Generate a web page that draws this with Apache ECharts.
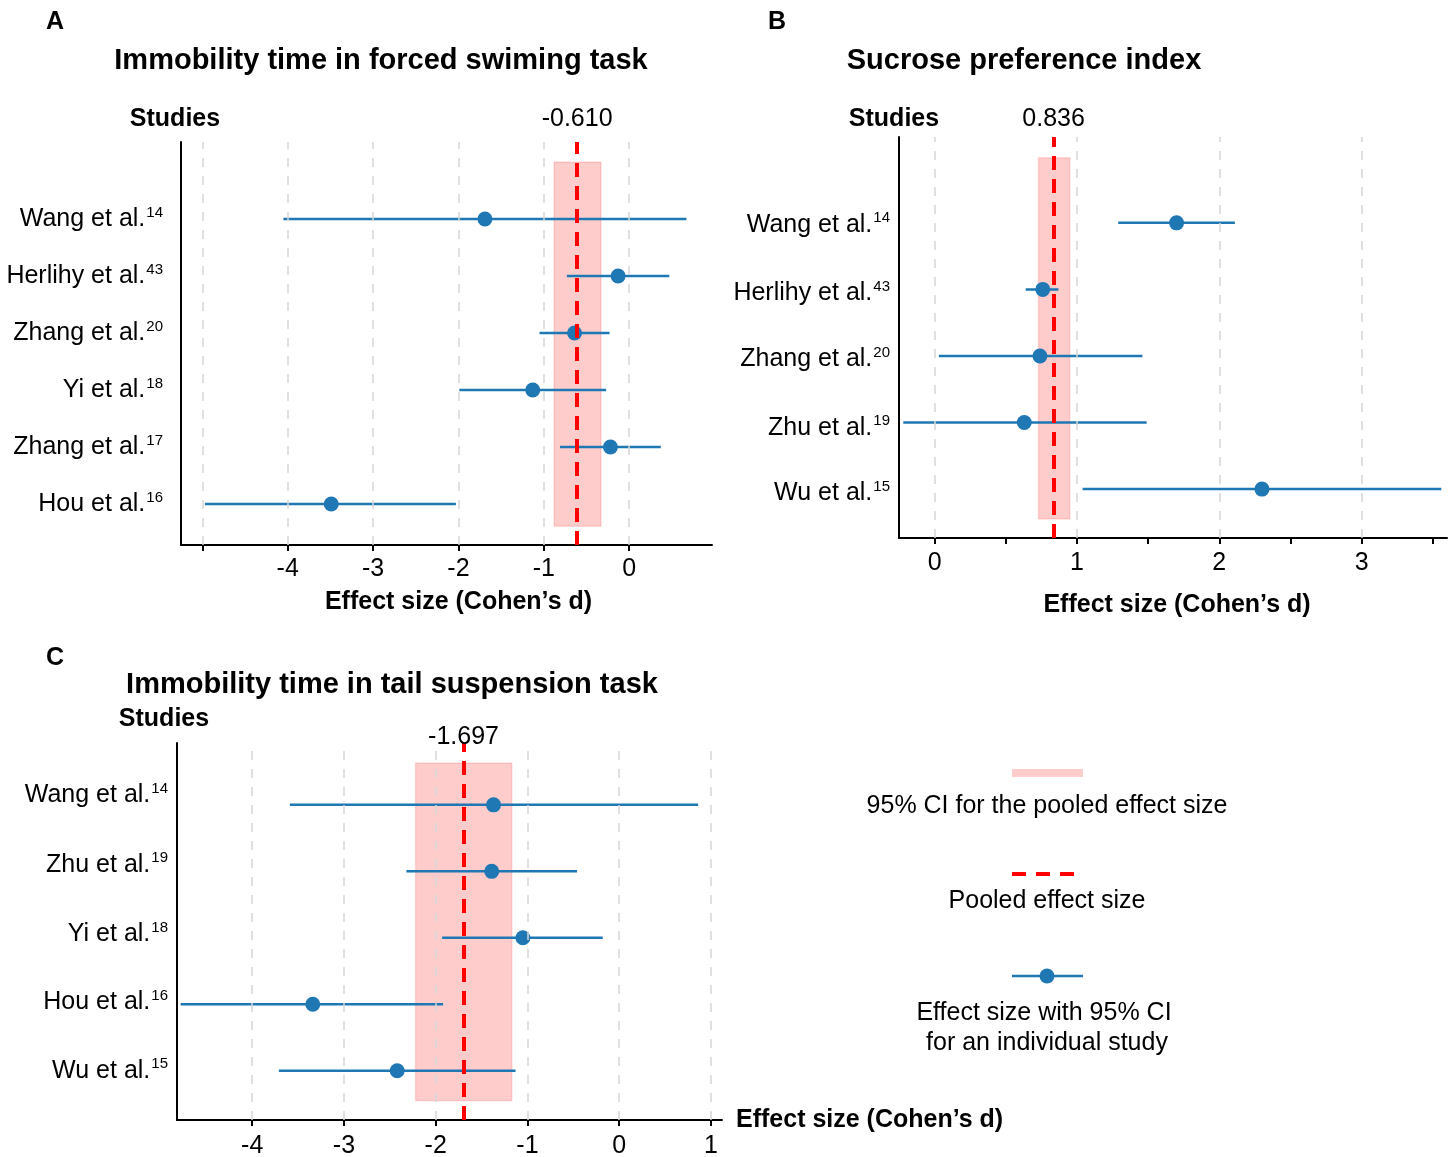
<!DOCTYPE html>
<html><head><meta charset="utf-8">
<script src="https://cdn.jsdelivr.net/npm/echarts@6/dist/echarts.min.js"></script>
<style>html,body{margin:0;padding:0;background:#fff}#c{width:1453px;height:1157px}</style>
</head><body><div id="c"></div>
<script>
const FONT = '"Liberation Sans", Arial, Helvetica, sans-serif';

// ---- Panel A: Immobility time in forced swiming task ----
const studiesA = ['Wang et al.', 'Herlihy et al.', 'Zhang et al.', 'Yi et al.', 'Zhang et al.', 'Hou et al.'];
const refsA = ['14', '43', '20', '18', '17', '16'];
const estA = [-1.69, -0.13, -0.64, -1.13, -0.22, -3.49];
const lowA = [-4.05, -0.73, -1.05, -1.99, -0.81, -4.97];
const highA = [0.67, 0.47, -0.23, -0.27, 0.37, -2.03];
const pooledA = -0.610;
const ciA = [-0.88, -0.33];
const tickValsA = [-5, -4, -3, -2, -1, 0];
const tickLabelsA = [-4, -3, -2, -1, 0];
const gridValsA = [-5, -4, -3, -2, -1, 0];
const labelPosA = [5, 4, 3, 2, 1, 0];

// ---- Panel B: Sucrose preference index ----
const studiesB = ['Wang et al.', 'Herlihy et al.', 'Zhang et al.', 'Zhu et al.', 'Wu et al.'];
const refsB = ['14', '43', '20', '19', '15'];
const estB = [1.70, 0.76, 0.74, 0.63, 2.30];
const lowB = [1.29, 0.64, 0.03, -0.22, 1.04];
const highB = [2.11, 0.87, 1.46, 1.49, 3.56];
const pooledB = 0.836;
const ciB = [0.73, 0.95];
const tickValsB = [0, 0.5, 1, 1.5, 2, 2.5, 3, 3.5];
const tickLabelsB = [0, 1, 2, 3];
const gridValsB = [0, 1, 2, 3];
const labelPosB = [3.97, 2.94, 1.95, 0.92, -0.06];

// ---- Panel C: Immobility time in tail suspension task ----
const studiesC = ['Wang et al.', 'Zhu et al.', 'Yi et al.', 'Hou et al.', 'Wu et al.'];
const refsC = ['14', '19', '18', '16', '15'];
const estC = [-1.37, -1.39, -1.05, -3.34, -2.42];
const lowC = [-3.59, -2.32, -1.93, -4.78, -3.71];
const highC = [0.86, -0.46, -0.18, -1.92, -1.13];
const pooledC = -1.697;
const ciC = [-2.22, -1.17];
const tickValsC = [-4, -3, -2, -1, 0, 1];
const tickLabelsC = [-4, -3, -2, -1, 0, 1];
const gridValsC = [-4, -3, -2, -1, 0, 1];
const labelPosC = [4.15, 3.10, 2.05, 1.03, 0];

const axisName = 'Effect size (Cohen\u2019s d)';

const panels = [
  { grid: {left: 181, top: 142, width: 531, height: 403}, xr: [-5.25, 0.97], yr: [-0.72, 6.35], band: [-0.39, 6.0],
    studies: studiesA, refs: refsA, est: estA, low: lowA, high: highA, pooled: pooledA, ci: ciA, lpos: labelPosA,
    ticks: tickValsA, labels: tickLabelsA, gridVals: gridValsA, yMargin: 18, xMargin: 12,
    nameLoc: 'middle', nameGap: 45, namePad: [0, 0, 0, 24], pDist: 10 },
  { grid: {left: 899, top: 137, width: 548, height: 401}, xr: [-0.25, 3.6], yr: [-0.735, 5.29], band: [-0.45, 4.98],
    studies: studiesB, refs: refsB, est: estB, low: lowB, high: highB, pooled: pooledB, ci: ciB, lpos: labelPosB,
    ticks: tickValsB, labels: tickLabelsB, gridVals: gridValsB, yMargin: 9, xMargin: 13,
    nameLoc: 'middle', nameGap: 55, namePad: [0, 0, 0, 8], pDist: 5 },
  { grid: {left: 177, top: 743, width: 545, height: 377}, xr: [-4.82, 1.12], yr: [-0.74, 4.93], band: [-0.45, 4.63],
    studies: studiesC, refs: refsC, est: estC, low: lowC, high: highC, pooled: pooledC, ci: ciC, lpos: labelPosC,
    ticks: tickValsC, labels: tickLabelsC, gridVals: gridValsC, yMargin: 9, xMargin: 14,
    nameLoc: 'end', nameGap: 14, namePad: 0, pDist: -7 }
];

const grids = [], xAxes = [], yAxes = [], series = [];
panels.forEach((p, i) => {
  const n = p.studies.length;
  grids.push(Object.assign({outerBoundsMode: 'none', containLabel: false}, p.grid));
  xAxes.push({
    type: 'value', gridIndex: i, min: p.xr[0], max: p.xr[1],
    name: axisName, nameLocation: p.nameLoc, nameGap: p.nameGap,
    nameTextStyle: {fontFamily: FONT, fontSize: 25, fontWeight: 'bold', color: '#000', padding: p.namePad,
      align: p.nameLoc === 'end' ? 'left' : 'center', verticalAlign: p.nameLoc === 'end' ? 'middle' : 'top'},
    axisLine: {onZero: false, lineStyle: {color: '#000', width: 2}},
    axisTick: {show: true, customValues: p.ticks, length: 6, inside: false, lineStyle: {color: '#000', width: 2}},
    axisLabel: {customValues: p.labels, fontFamily: FONT, fontSize: 25, color: '#000', margin: p.xMargin,
      formatter: v => String(v)},
    splitLine: {show: false}
  });
  yAxes.push({
    type: 'value', gridIndex: i, min: p.yr[0], max: p.yr[1],
    axisLine: {onZero: false, show: true, lineStyle: {color: '#000', width: 2}},
    axisTick: {show: false},
    splitLine: {show: false},
    axisLabel: {
      customValues: p.lpos,
      margin: p.yMargin,
      formatter: v => {
        let j = 0, d = Infinity;
        p.lpos.forEach((q, k) => { if (Math.abs(q - v) < d) { d = Math.abs(q - v); j = k; } });
        return '{n|' + p.studies[j] + '}{s|' + p.refs[j] + '}';
      },
      rich: {
        n: {fontFamily: FONT, fontSize: 25, color: '#000', lineHeight: 28},
        s: {fontFamily: FONT, fontSize: 15, color: '#000', lineHeight: 15, verticalAlign: 'top', padding: [0, 0, 0, 1]}
      }
    }
  });
  // dashed gray grid lines
  series.push({
    type: 'line', xAxisIndex: i, yAxisIndex: i, data: [], z: 1, silent: true,
    markLine: {silent: true, symbol: 'none', animation: false, label: {show: false},
      lineStyle: {color: '#d6d6d6', width: 1.5, type: [9, 9]},
      data: p.gridVals.map(v => ({xAxis: v}))}
  });
  // pooled CI band + pooled dashed line
  series.push({
    type: 'line', xAxisIndex: i, yAxisIndex: i, data: [], z: 2, silent: true,
    markArea: {silent: true, animation: false,
      itemStyle: {color: 'rgba(255,0,0,0.2)', borderColor: 'rgba(255,0,0,0.12)', borderWidth: 1.5},
      data: [[{coord: [p.ci[0], p.band[0]]}, {coord: [p.ci[1], p.band[1]]}]]},
    markLine: {silent: true, symbol: 'none', animation: false,
      lineStyle: {color: '#ff0000', width: 4, type: [14, 9]},
      label: {show: true, position: 'end', distance: p.pDist, formatter: () => p.pooled.toFixed(3),
        fontFamily: FONT, fontSize: 25, color: '#000'},
      data: [[{coord: [p.pooled, p.yr[0]]}, {coord: [p.pooled, p.yr[1]]}]]}
  });
  // error bars
  series.push({
    type: 'custom', xAxisIndex: i, yAxisIndex: i, z: 3, silent: true,
    data: p.low.map((l, j) => [l, p.high[j], n - 1 - j]),
    encode: {x: [0, 1], y: 2},
    renderItem: (params, api) => {
      const a = api.coord([api.value(0), api.value(2)]);
      const b = api.coord([api.value(1), api.value(2)]);
      return {type: 'line', shape: {x1: a[0], y1: a[1], x2: b[0], y2: b[1]},
        style: {stroke: '#1f77b4', lineWidth: 2.5}};
    }
  });
  // point estimates
  series.push({
    type: 'scatter', xAxisIndex: i, yAxisIndex: i, z: 4, silent: true,
    symbol: 'circle', symbolSize: 15, itemStyle: {color: '#1f77b4', opacity: 1},
    data: p.est.map((v, j) => [v, n - 1 - j])
  });
});

function txt(text, x, y, size, bold, align) {
  return {type: 'text', silent: true, style: {text: text, x: x, y: y, fill: '#000',
    font: (bold ? 'bold ' : '') + size + 'px ' + FONT,
    textAlign: align || 'center', textVerticalAlign: 'middle', align: align || 'center', verticalAlign: 'middle'}};
}

const graphics = [
  txt('A', 55, 22, 25, true), txt('B', 777, 22, 25, true), txt('C', 55, 658, 25, true),
  txt('Immobility time in forced swiming task', 381, 61, 29, true),
  txt('Sucrose preference index', 1024, 61, 29, true),
  txt('Immobility time in tail suspension task', 392, 685, 29, true),
  txt('Studies', 175, 119, 25, true), txt('Studies', 894, 119, 25, true), txt('Studies', 164, 719, 25, true),
  // legend
  {type: 'rect', silent: true, shape: {x: 1012, y: 769, width: 71, height: 8}, style: {fill: 'rgba(255,0,0,0.2)'}},
  txt('95% CI for the pooled effect size', 1047, 806, 25, false),
  {type: 'line', silent: true, shape: {x1: 1012, y1: 874, x2: 1076, y2: 874},
    style: {stroke: '#ff0000', lineWidth: 4, lineDash: [14, 10]}},
  txt('Pooled effect size', 1047, 901, 25, false),
  {type: 'line', silent: true, shape: {x1: 1012, y1: 976, x2: 1083, y2: 976}, style: {stroke: '#1f77b4', lineWidth: 2.5}},
  {type: 'circle', silent: true, shape: {cx: 1047, cy: 976, r: 7.5}, style: {fill: '#1f77b4'}},
  txt('Effect size with 95% CI', 1044, 1013, 25, false),
  txt('for an individual study', 1047, 1043, 25, false)
];

const chart = echarts.init(document.getElementById('c'), null, {renderer: 'canvas'});
chart.setOption({
  animation: false,
  backgroundColor: '#fff',
  grid: grids, xAxis: xAxes, yAxis: yAxes, series: series,
  graphic: graphics
});
</script></body></html>
